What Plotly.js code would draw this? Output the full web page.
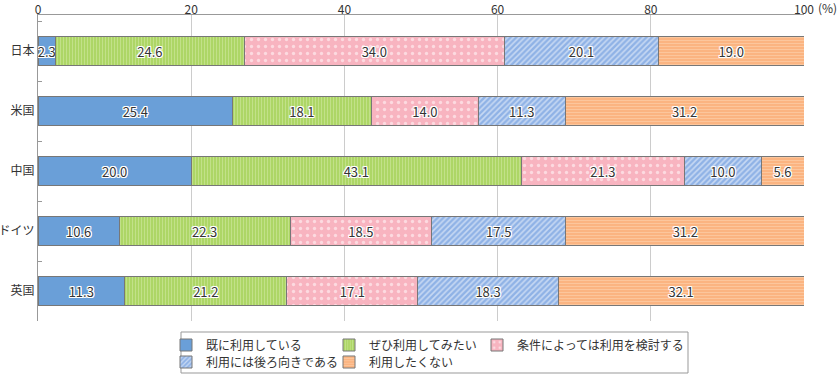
<!DOCTYPE html>
<html><head><meta charset="utf-8">
<script src="https://cdn.plot.ly/plotly-3.0.1.min.js"></script>
<style>html,body{margin:0;padding:0;background:#fff}#chart{width:838px;height:376px}</style>
</head><body><div id="chart"></div>
<script>
const countries = ["日本", "米国", "中国", "ドイツ", "英国"];
const seriesNames = ["既に利用している", "ぜひ利用してみたい", "条件によっては利用を検討する", "利用には後ろ向きである", "利用したくない"];
const already = [2.3, 25.4, 20.0, 10.6, 11.3];
const wantToUse = [24.6, 18.1, 43.1, 22.3, 21.2];
const conditional = [34.0, 14.0, 21.3, 18.5, 17.1];
const reluctant = [20.1, 11.3, 10.0, 17.5, 18.3];
const notWant = [19.0, 31.2, 5.6, 31.2, 32.1];
const xTicks = [0, 20, 40, 60, 80, 100];

const F = '"Noto Sans CJK JP", "Noto Sans", sans-serif';
const halo = "1px 0 0 #fff, -1px 0 0 #fff, 0 1px 0 #fff, 0 -1px 0 #fff, 1px 1px 0 #fff, -1px -1px 0 #fff, 1px -1px 0 #fff, -1px 1px 0 #fff";

// legend item pixel positions (left edge of legend box, vertical centre of row)
const styles = [
  {bg: "#6a9fd8", fg: "#6a9fd8", shape: "", size: 8, sol: 0.3, lx: 166, ly: 345},
  {bg: "#a9d35e", fg: "#dcefb4", shape: "|", size: 3, sol: 0.45, lx: 329, ly: 345},
  {bg: "#f8b4c0", fg: "#ffffff", shape: ".", size: 7, sol: 0.18, lx: 477, ly: 345},
  {bg: "#8fb2e6", fg: "#ffffff", shape: "/", size: 4, sol: 0.4, lx: 166, ly: 362},
  {bg: "#fbb27d", fg: "#fdd9bb", shape: "-", size: 3, sol: 0.4, lx: 329, ly: 362}
];
const values = [already, wantToUse, conditional, reluctant, notWant];
const legendIds = ["legend", "legend2", "legend3", "legend4", "legend5"];

const traces = values.map((v, i) => ({
  type: "bar",
  orientation: "h",
  name: seriesNames[i],
  y: countries,
  x: v,
  width: 0.48,
  legend: legendIds[i],
  marker: {
    color: styles[i].bg,
    line: {color: "#777", width: 1},
    pattern: {shape: styles[i].shape, bgcolor: styles[i].bg, fgcolor: styles[i].fg, size: styles[i].size, solidity: styles[i].sol, fillmode: "overlay"}
  },
  text: v.map(x => x.toFixed(1)),
  texttemplate: "%{text}",
  textposition: "inside",
  insidetextanchor: "middle",
  constraintext: "none",
  textangle: 0,
  textfont: {family: F, size: 13, color: "#333", shadow: halo},
  hoverinfo: "none"
}));

const W = 838, H = 376;
const plotW = 766, plotH = 306, mLeft = 38, mTop = 15;
const px = x => (x - mLeft) / plotW;
const py = y => (mTop + plotH - y) / plotH;

const layout = {
  width: W, height: H,
  margin: {l: mLeft, r: W - mLeft - plotW, t: mTop, b: H - mTop - plotH, autoexpand: false},
  paper_bgcolor: "#fff", plot_bgcolor: "#fff",
  barmode: "stack",
  bargap: 0.52,
  showlegend: true,
  font: {family: F, size: 12, color: "#333"},
  xaxis: {
    side: "top", range: [0, 100], tickvals: xTicks, ticktext: xTicks.map(String),
    showgrid: true, gridcolor: "#cccccc", gridwidth: 1, zeroline: false,
    showline: true, linecolor: "#999", linewidth: 1, ticks: "",
    ticklabelstandoff: -5,
    tickfont: {family: F, size: 12, color: "#333"}, fixedrange: true
  },
  yaxis: {
    type: "category", categoryorder: "array", categoryarray: countries,
    range: [4.5, -0.6], showline: true, linecolor: "#999", linewidth: 1,
    ticks: "inside", ticklen: 4, tickcolor: "#999", tickson: "boundaries",
    showgrid: false, zeroline: false,
    tickfont: {family: F, size: 12, color: "#333"}, fixedrange: true
  },
  shapes: [{type: "rect", xref: "paper", yref: "paper",
    x0: px(181), x1: px(688), y0: py(332), y1: py(373),
    line: {color: "#999", width: 1}, fillcolor: "rgba(0,0,0,0)"}],
  annotations: [{xref: "paper", yref: "paper", x: 1, y: 1, xanchor: "left", yanchor: "middle", xshift: 12, yshift: 8, text: "(%)", showarrow: false, font: {family: F, size: 12, color: "#333"}}]
};
legendIds.forEach((id, i) => {
  layout[id] = {orientation: "v", x: px(styles[i].lx), y: py(styles[i].ly), xanchor: "left", yanchor: "middle",
    bgcolor: "rgba(0,0,0,0)", borderwidth: 0, font: {family: F, size: 12, color: "#333"}};
});

Plotly.newPlot("chart", traces, layout, {displayModeBar: false, staticPlot: true});
</script></body></html>
